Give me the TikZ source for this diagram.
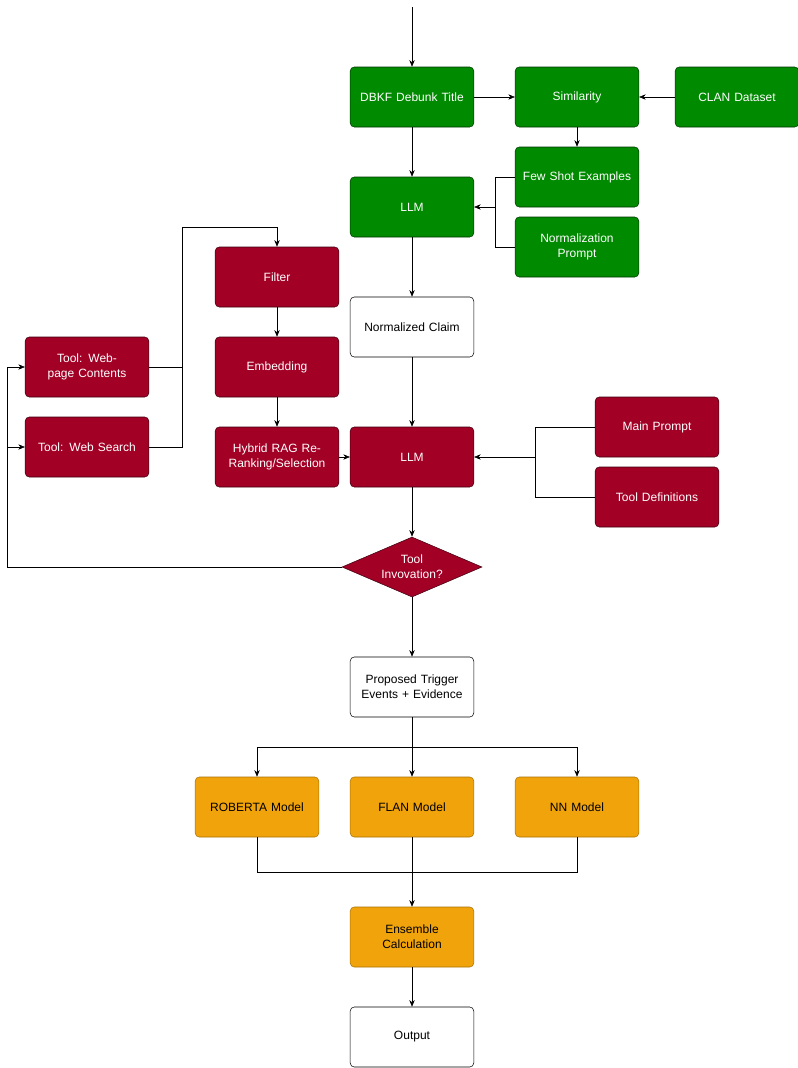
\documentclass[tikz,border=0pt]{standalone}
\usepackage{fontspec}
\setmainfont{Liberation Sans}
\usetikzlibrary{shapes.geometric,arrows.meta}
\definecolor{dgreen}{HTML}{008A00}
\definecolor{dred}{HTML}{A20025}
\definecolor{dorange}{HTML}{F0A30A}
\tikzset{
  box/.style={draw, rounded corners=3pt, minimum width=90pt, minimum height=45pt, align=center, font=\fontsize{9}{11}\selectfont, text width=86pt},
  gbox/.style={box, fill=dgreen, draw=black!60!dgreen, text=white},
  rbox/.style={box, fill=dred, draw=black!60!dred, text=white},
  obox/.style={box, fill=dorange, draw=black!30!dorange, text=black},
  wbox/.style={box, fill=white, draw=black},
  arr/.style={draw, -{Stealth[length=5pt,width=4pt]}},
  ln/.style={draw}
}
\begin{document}
\begin{tikzpicture}[x=0.75pt, y=-0.75pt]
    \useasboundingbox (0,0) rectangle (798,1068);
    % input part
    \coordinate (start) at (412,7);
    \node[gbox] (dbkf) at (412,97) {DBKF Debunk Title};
    \node[gbox] (sim) at (577,97) {Similarity};
    \node[gbox] (clan) at (737,97) {CLAN Dataset};
    \node[gbox] (few) at (577,177) {Few Shot Examples};
    \node[gbox] (normp) at (577,247) {Normalization Prompt};
    \node[gbox] (llma) at (412,207) {LLM};
    \node[wbox] (claim) at (412,327) {Normalized Claim};

    % retrieval part
    \node[rbox] (filter) at (277,277) {Filter};
    \node[rbox] (embed) at (277,367) {Embedding};
    \node[rbox] (rag) at (277,457) {Hybrid RAG Re-Ranking/Selection};
    \node[rbox] (webpage) at (87,367) {Tool: Webpage Contents};
    \node[rbox] (search) at (87,447) {Tool: Web Search};
    \node[rbox] (llmb) at (412,457) {LLM};
    \node[rbox] (mainp) at (657,427) {Main Prompt};
    \node[rbox] (tooldef) at (657,497) {Tool Definitions};
    \node[diamond, draw=black!60!dred, fill=dred, text=white, aspect=1.75, minimum width=105pt, minimum height=45pt, inner sep=0pt, align=center, font=\fontsize{9}{11}\selectfont] (inv) at (412,567) {Tool\\Invovation?};

    % ensemble part
    \node[wbox] (trig) at (412,687) {Proposed Trigger Events + Evidence};
    \node[obox] (roberta) at (257,807) {ROBERTA Model};
    \node[obox] (flan) at (412,807) {FLAN Model};
    \node[obox] (nn) at (577,807) {NN Model};
    \node[obox] (ens) at (412,937) {Ensemble Calculation};
    \node[wbox] (out) at (412,1037) {Output};

    \path[arr] (start) -- (dbkf);
    \path[arr] (dbkf) -- (sim);
    \path[arr] (clan) -- (sim);
    \path[arr] (sim) -- (few);
    \path[arr] (dbkf) -- (llma);
    \path[ln] (few.west) -- (495,177) -- (495,247) -- (normp.west);
    \path[arr] (495,207) -- (llma.east);
    \path[arr] (llma) -- (claim);
    \path[arr] (claim) -- (llmb);

    \path[arr] (webpage.east) -- (182,367) -- (182,227) -- (277,227) -- (filter.north);
    \path[ln] (search.east) -- (182,447) -- (182,367);
    \path[arr] (filter) -- (embed);
    \path[arr] (embed) -- (rag);
    \path[arr] (rag) -- (llmb);
    \path[ln] (mainp.west) -- (535,427) -- (535,497) -- (tooldef.west);
    \path[arr] (535,457) -- (llmb.east);
    \path[arr] (llmb) -- (inv);
    \path[arr] (inv.west) -- (7,567) -- (7,367) -- (webpage.west);
    \path[arr] (7,447) -- (search.west);
    \path[arr] (inv) -- (trig);

    \path[ln] (trig.south) -- (412,747);
    \path[arr] (257,747) -- (577,747) -- (nn.north);
    \path[arr] (257,747) -- (roberta.north);
    \path[arr] (412,747) -- (flan.north);
    \path[ln] (roberta.south) -- (257,872) -- (577,872) -- (nn.south);
    \path[arr] (flan.south) -- (ens.north);
    \path[arr] (ens) -- (out);
\end{tikzpicture}
\end{document}
